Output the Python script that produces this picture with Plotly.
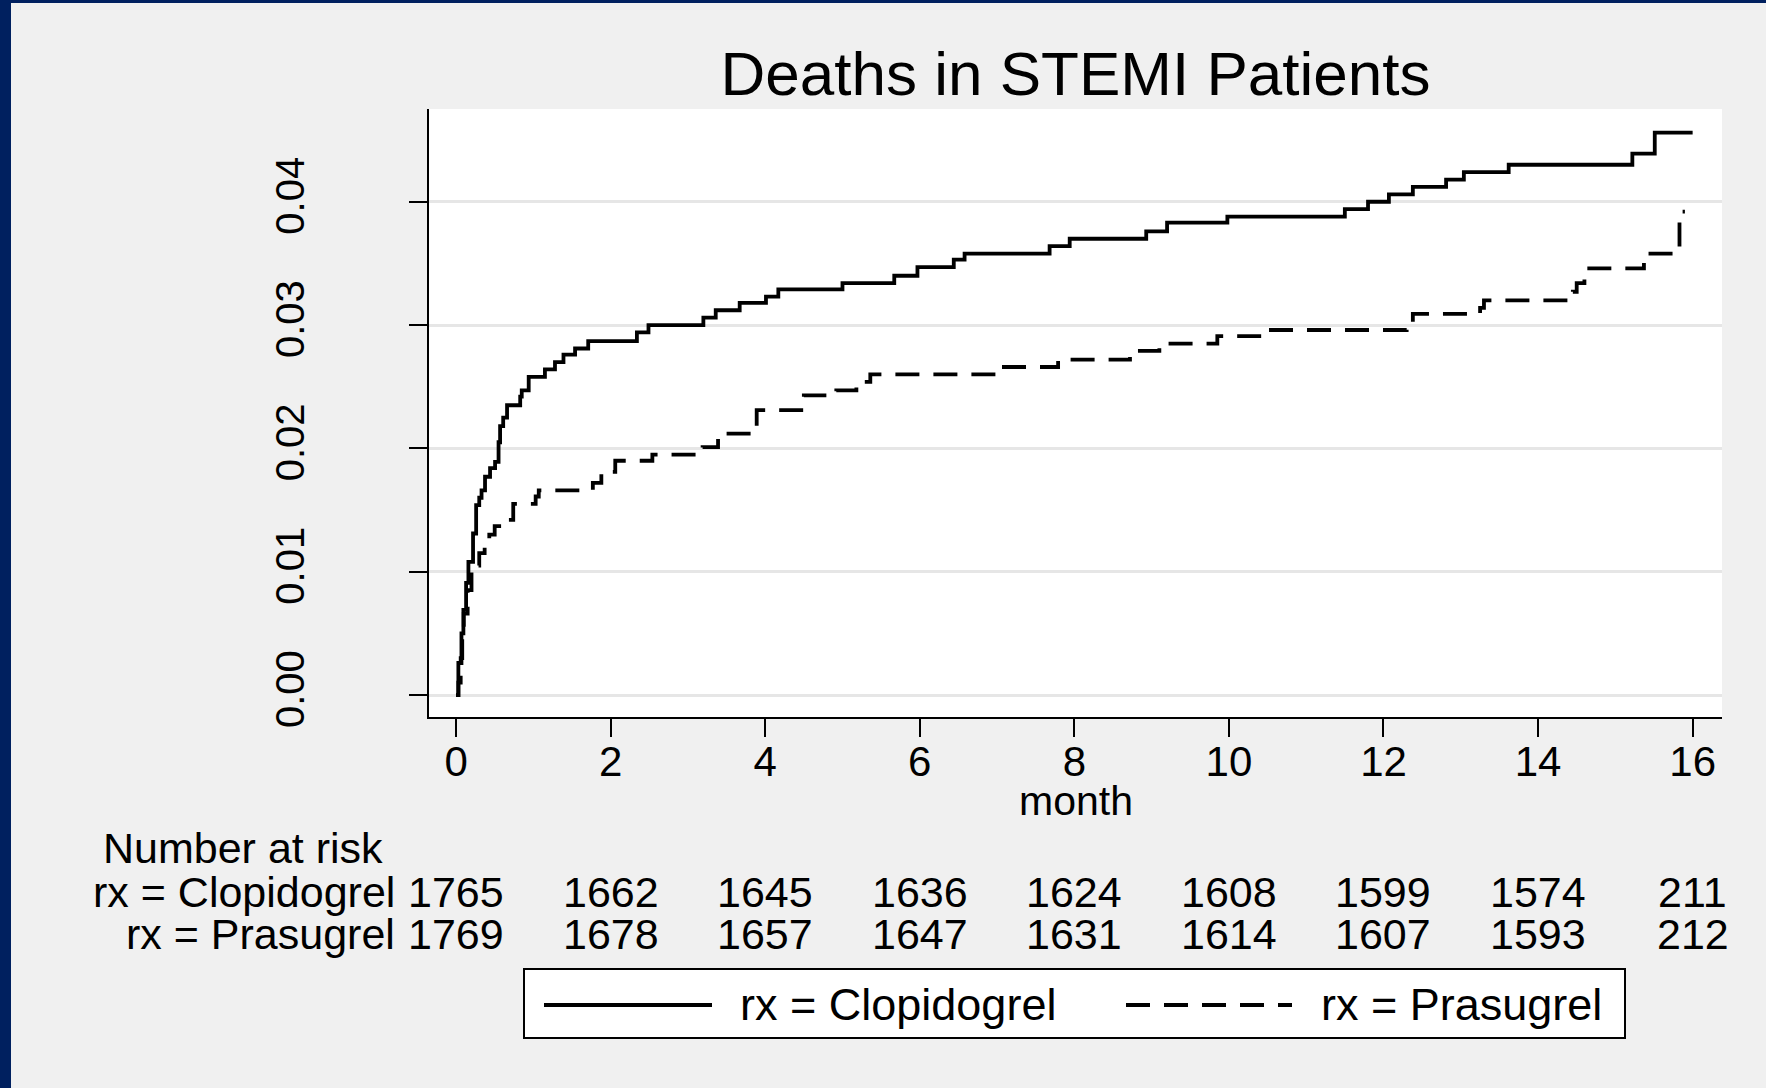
import plotly.graph_objects as go

# Kaplan-Meier style cumulative deaths (failure) per arm
clopi_month = [0, 0.03, 0.07, 0.095, 0.13, 0.16, 0.22, 0.26, 0.30, 0.33, 0.375, 0.44, 0.505,
               0.55, 0.57, 0.61, 0.66, 0.83, 0.85, 0.94, 1.15, 1.28, 1.39, 1.54, 1.71, 2.34,
               2.49, 3.2, 3.36, 3.67, 4.01, 4.17, 5.0, 5.67, 5.97, 6.44, 6.58, 7.68, 7.94,
               8.93, 9.2, 9.98, 11.5, 11.8, 12.07, 12.38, 12.81, 13.04, 13.62, 15.22, 15.51, 16.0]
clopi_fail = [0, 0.0026, 0.005, 0.0069, 0.0091, 0.0108, 0.0131, 0.0154, 0.016, 0.0166, 0.0177,
              0.0184, 0.0189, 0.0205, 0.0218, 0.0225, 0.0235, 0.0242, 0.0247, 0.0258, 0.0264,
              0.027, 0.0276, 0.0281, 0.0287, 0.0294, 0.03, 0.0306, 0.0312, 0.0318, 0.0323,
              0.0329, 0.0334, 0.034, 0.0347, 0.0353, 0.0358, 0.0364, 0.037, 0.0376, 0.0383,
              0.0388, 0.0394, 0.04, 0.0406, 0.0412, 0.0418, 0.0424, 0.043, 0.0439, 0.0456, 0.0456]

prasu_month = [0, 0.03, 0.06, 0.08, 0.10, 0.15, 0.20, 0.30, 0.37, 0.43, 0.50, 0.66, 0.74, 1.03,
               1.07, 1.77, 1.88, 2.06, 2.54, 3.19, 3.39, 3.89, 4.50, 4.92, 5.18, 5.36, 7.03,
               7.79, 8.72, 9.10, 9.85, 10.47, 12.30, 12.38, 13.25, 13.30, 14.45, 14.50, 14.60,
               15.37, 15.83, 15.90]
prasu_fail = [0, 0.001, 0.003, 0.005, 0.0066, 0.0085, 0.0105, 0.0115, 0.0125, 0.013, 0.0137,
              0.0142, 0.0155, 0.0161, 0.0166, 0.0172, 0.0181, 0.019, 0.0195, 0.0201, 0.0212,
              0.0231, 0.0243, 0.0247, 0.0254, 0.026, 0.0266, 0.0272, 0.0279, 0.0285, 0.0291,
              0.0296, 0.0302, 0.0309, 0.0314, 0.032, 0.0327, 0.0334, 0.0346, 0.0358, 0.0392, 0.0392]

risk_months = [0, 2, 4, 6, 8, 10, 12, 14, 16]
risk_clopi = [1765, 1662, 1645, 1636, 1624, 1608, 1599, 1574, 211]
risk_prasu = [1769, 1678, 1657, 1647, 1631, 1614, 1607, 1593, 212]

y_ticks = [0.0, 0.01, 0.02, 0.03, 0.04]

W, H = 1766, 1088
L, R, T, B = 429, 1722, 109, 717  # plot area in pixels
FONT = "Liberation Sans, Arial, sans-serif"
NAVY = "#00205f"
TXT = 43


def px(x):
    return (x - L) / (R - L)


def py(y):
    return (B - y) / (B - T)


fig = go.Figure()
fig.add_trace(go.Scatter(x=clopi_month, y=clopi_fail, mode="lines", line_shape="hv",
                         line=dict(color="black", width=3.8), name="rx = Clopidogrel",
                         showlegend=False))
fig.add_trace(go.Scatter(x=prasu_month, y=prasu_fail, mode="lines", line_shape="hv",
                         line=dict(color="black", width=3.8, dash="24px,14px"),
                         name="rx = Prasugrel", showlegend=False))

ann = []
ann.append(dict(text="month", xref="paper", yref="paper", x=0.5, y=py(801),
                xanchor="center", yanchor="middle", showarrow=False, font=dict(size=41)))
# number at risk table
ann.append(dict(text="Number at risk", xref="paper", yref="paper", x=px(101), y=py(848),
                xanchor="left", yanchor="middle", showarrow=False, font=dict(size=TXT)))
for label, counts, yy in (("rx = Clopidogrel", risk_clopi, 892), ("rx = Prasugrel", risk_prasu, 934)):
    ann.append(dict(text=label, xref="paper", yref="paper", x=px(397), y=py(yy),
                    xanchor="right", yanchor="middle", showarrow=False, font=dict(size=TXT)))
    for m, n in zip(risk_months, counts):
        ann.append(dict(text=str(n), xref="x", yref="paper", x=m, y=py(yy),
                        xanchor="center", yanchor="middle", showarrow=False, font=dict(size=TXT)))

# hand-drawn legend (long line samples like the original)
ann.append(dict(text="rx = Clopidogrel", xref="paper", yref="paper", x=px(738), y=py(1004),
                xanchor="left", yanchor="middle", showarrow=False, font=dict(size=45)))
ann.append(dict(text="rx = Prasugrel", xref="paper", yref="paper", x=px(1319), y=py(1004),
                xanchor="left", yanchor="middle", showarrow=False, font=dict(size=45)))

shapes = [
    dict(type="rect", xref="paper", yref="paper", x0=px(524), x1=px(1625), y0=py(1038), y1=py(969),
         line=dict(color="black", width=2), fillcolor="white", layer="below"),
    dict(type="line", xref="paper", yref="paper", x0=px(544), x1=px(712), y0=py(1005), y1=py(1005),
         line=dict(color="black", width=3.8)),
    dict(type="line", xref="paper", yref="paper", x0=px(1126), x1=px(1292), y0=py(1005), y1=py(1005),
         line=dict(color="black", width=3.8, dash="24px,14px")),
    # slide frame: navy strip on the left and the top
    dict(type="rect", xref="paper", yref="paper", x0=px(0), x1=px(11), y0=py(H), y1=py(0),
         line=dict(width=0), fillcolor=NAVY),
    dict(type="rect", xref="paper", yref="paper", x0=px(0), x1=px(W), y0=py(3), y1=py(0),
         line=dict(width=0), fillcolor=NAVY),
]

fig.update_layout(
    width=W, height=H,
    margin=dict(l=L, r=W - R, t=T, b=H - B, autoexpand=False),
    paper_bgcolor="#f0f0f0",
    plot_bgcolor="white",
    font=dict(family=FONT, color="black", size=TXT),
    title=dict(text="Deaths in STEMI Patients", x=0.5, xref="paper", xanchor="center",
               y=1 - 73 / H, yref="container", yanchor="middle", font=dict(size=62)),
    xaxis=dict(range=[-0.35, 16.38], tickvals=risk_months, ticks="outside", ticklen=18,
               tickwidth=2, tickcolor="black", showline=True, linecolor="black", linewidth=2,
               showgrid=False, zeroline=False, tickfont=dict(size=42), ticklabelstandoff=-11,
               automargin=False),
    yaxis=dict(range=[-0.00178, 0.04752], tickvals=y_ticks, tickformat=".2f", tickangle=-90,
               ticks="outside", ticklen=18, tickwidth=2, tickcolor="black", showline=True,
               linecolor="black", linewidth=2, showgrid=True, gridcolor="#e6e6e6", gridwidth=3,
               zeroline=False, tickfont=dict(size=40), ticklabelstandoff=89, automargin=False),
    annotations=ann,
    shapes=shapes,
    showlegend=False,
)

fig.write_html("out.html", config={"displayModeBar": False},
               post_script="document.body.style.margin = '0px';")
